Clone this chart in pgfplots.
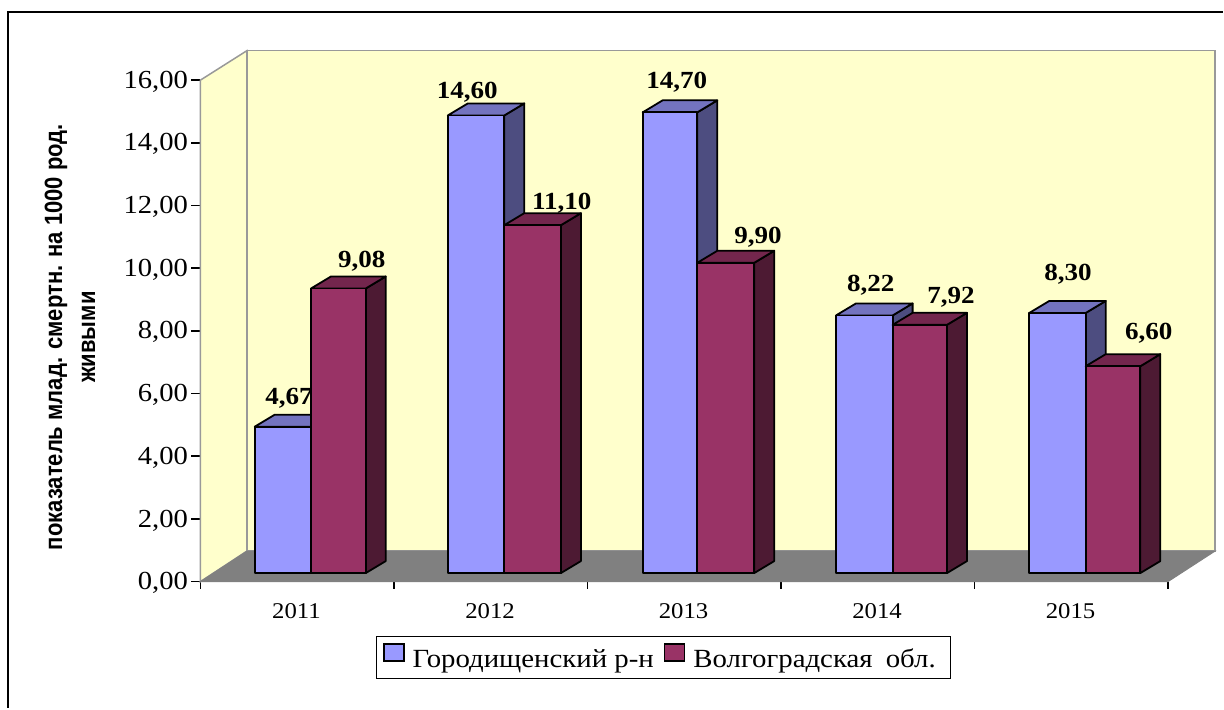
\documentclass[border=0pt]{standalone}
\usepackage{fontspec}
\usepackage{pgfplots}
\pgfplotsset{compat=1.18}
\setmainfont{Liberation Serif}[FakeStretch=1.1]
\newfontfamily\ylabfont[FakeStretch=0.88]{Liberation Sans}
\definecolor{cwall}{HTML}{FFFFCC}
\definecolor{cfloor}{HTML}{808080}
\definecolor{cedge}{HTML}{999999}
\definecolor{bfront}{HTML}{9999FF}
\definecolor{btop}{HTML}{7373BF}
\definecolor{bside}{HTML}{4D4D80}
\definecolor{rfront}{HTML}{993366}
\definecolor{rtop}{HTML}{73264D}
\definecolor{rside}{HTML}{4D1A33}
\newcommand{\threedbar}[6]{%
  % #1 left x, #2 right x, #3 value, #4 front, #5 top, #6 side
  \pgfmathsetmacro{\Tv}{#3+0.271}%
  \pgfmathsetmacro{\Td}{#3+0.271+0.383}%
  \pgfmathsetmacro{\Xr}{#2+20}%
  \pgfmathsetmacro{\Xl}{#1+20}%
  \addplot[forget plot,fill=#6,draw=black,line width=1.8pt,line join=round] coordinates {(#2,0.271) (\Xr,0.654) (\Xr,\Td) (#2,\Tv)} --cycle;
  \addplot[forget plot,fill=#5,draw=black,line width=1.8pt,line join=round] coordinates {(#1,\Tv) (#2,\Tv) (\Xr,\Td) (\Xl,\Td)} --cycle;
  \addplot[forget plot,fill=#4,draw=black,line width=1.8pt,line join=round] coordinates {(#1,0.271) (#2,0.271) (#2,\Tv) (#1,\Tv)} --cycle;
}
\newcommand{\vlabel}[3]{\node[anchor=base,inner sep=0pt,font=\fontsize{24.6}{24.6}\selectfont\bfseries] at (axis cs:#1,{(581.5-#2-8)/31.34}) {#3};}
\begin{document}
\begin{tikzpicture}
\begin{axis}[
  scale only axis,width=967.5pt,height=501.5pt,
  xmin=200.5,xmax=1168,ymin=0,ymax=16,clip=false,
  axis x line*=bottom,axis y line*=left,
  axis line style={line width=1.8pt,black},
  xtick={296.5,490,683.5,877,1070.5},
  xticklabels={2011,2012,2013,2014,2015},
  minor xtick={200.5,394,587.5,781,974.5,1168},
  major x tick style={draw=none},
  every minor tick/.append style={line width=1.8pt,black},
  minor x tick style={line width=1.8pt,black},
  minor tick length=7pt,
  x tick label style={font=\fontsize{22.5}{22.5}\selectfont,yshift=-9pt},
  ytick={0,2,...,16},
  y tick style={line width=1.5pt,black},
  tick align=outside,
  major tick length=9pt,
  y tick label style={font=\fontsize{26}{26}\selectfont,xshift=0pt,yshift=-1.5pt},
  /pgf/number format/.cd,fixed,fixed zerofill,precision=2,use comma,1000 sep={},assume math mode=true,
  /pgfplots/.cd,
  ylabel={показатель млад. смертн. на 1000 род.\\живыми},
  ylabel style={at={(axis description cs:-0.1349,0.4875)},anchor=center,align=center,
    font=\ylabfont\bfseries\fontsize{25}{33}\selectfont},
  legend columns=2,
  legend cell align=left,
  legend style={at={(axis cs:376,-1.739)},anchor=north west,draw=black,line width=1.2pt,
    font=\fontsize{26.2}{26.2}\selectfont,inner xsep=6.5pt,inner ysep=6.5pt,
    nodes={inner xsep=8pt,inner ysep=3pt},
    /tikz/every even column/.style={column sep=2pt}},
  legend image code/.code={\draw[#1,line width=1.5pt] (0pt,-2pt) rectangle (20pt,15pt);},
]
% frame and page extent
\path (axis cs:0,-4.068) rectangle (axis cs:1224,18.555);
\addplot[forget plot,draw=black,line width=2pt] coordinates {(8,-4.03) (8,18.17) (1223,18.17)};
% walls and floor
\addplot[forget plot,fill=cwall,draw=cedge,line width=1.5pt] coordinates {(200.5,0) (247,0.973) (247,16.94) (200.5,16)} --cycle;
\addplot[forget plot,fill=cwall,draw=cedge,line width=1.5pt] coordinates {(247,0.973) (1215,0.973) (1215,16.94) (247,16.94)} --cycle;
\addplot[forget plot,fill=cfloor,draw=cfloor,line width=1pt] coordinates {(200.5,0) (247,0.973) (1215,0.973) (1168,0)} --cycle;
% 2011
\threedbar{254.7}{311}{4.67}{bfront}{btop}{bside}
\vlabel{289}{396}{4,67}
\threedbar{311}{365.7}{9.08}{rfront}{rtop}{rside}
% 2012
\threedbar{447.8}{504.3}{14.60}{bfront}{btop}{bside}
\threedbar{504.3}{560.9}{11.10}{rfront}{rtop}{rside}
% 2013
\threedbar{642.7}{697.3}{14.70}{bfront}{btop}{bside}
\threedbar{697.3}{754.2}{9.90}{rfront}{rtop}{rside}
% 2014
\threedbar{836}{892.6}{8.22}{bfront}{btop}{bside}
\threedbar{892.6}{947}{7.92}{rfront}{rtop}{rside}
% 2015
\threedbar{1029.3}{1085.7}{8.30}{bfront}{btop}{bside}
\threedbar{1085.7}{1140.3}{6.60}{rfront}{rtop}{rside}
% value labels
\vlabel{361.7}{259}{9,08}
\vlabel{467.3}{90}{14,60}
\vlabel{561.7}{201}{11,10}
\vlabel{676.7}{80}{14,70}
\vlabel{758}{235.7}{9,90}
\vlabel{870.7}{283}{8,22}
\vlabel{951}{295}{7,92}
\vlabel{1068}{272.7}{8,30}
\vlabel{1148.7}{331.7}{6,60}
\addlegendimage{fill=bfront,draw=black}
\addlegendentry{Городищенский р-н}
\addlegendimage{fill=rfront,draw=black}
\addlegendentry{Волгоградская\hspace{6pt} обл.}
\end{axis}
\end{tikzpicture}
\end{document}
